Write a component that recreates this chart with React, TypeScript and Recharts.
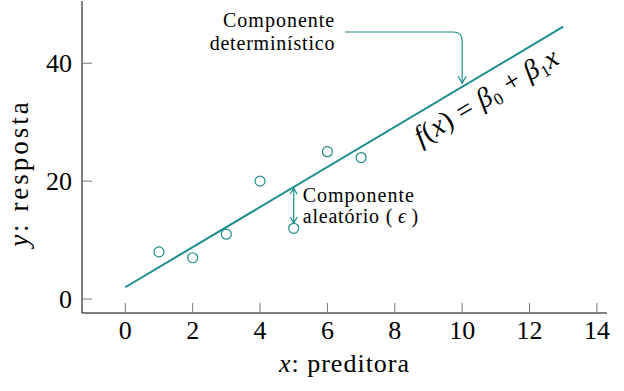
import { ComposedChart, XAxis, YAxis, Line, Scatter, ReferenceLine, ReferenceDot } from "recharts";

// axis ticks
const xTicks = [0, 2, 4, 6, 8, 10, 12, 14];
const yTicks = [0, 20, 40];

// observed points (x: preditora, y: resposta)
const observed = [
  { x: 1, y: 8 },
  { x: 2, y: 7 },
  { x: 3, y: 11 },
  { x: 4, y: 20 },
  { x: 5, y: 12 },
  { x: 6, y: 25 },
  { x: 7, y: 24 },
];

// fitted line f(x) = b0 + b1 x, end points
const fitted = [
  { x: 0, y: 2 },
  { x: 13, y: 46.2 },
];

// annotations (data coords)
const detArrow = [
  { x: 6.53, y: 45.3 },
  { x: 10, y: 36.6 },
];
const errArrow = [
  { x: 5, y: 12.9 },
  { x: 5, y: 18.8 },
];
const formulaAt = { x: 10.4, y: 37.4 };

const TEAL = "#1d8c8c";
const FONT = "Liberation Serif";
const TICK = "#777";
const txt = { fontFamily: FONT };

function BottomTick({ x, y, payload }: any) {
  return (
    <g>
      <line x1={x} y1={y} x2={x} y2={y - 10} stroke={TICK} />
      <text x={x} y={y + 26} textAnchor="middle" fontSize={26} style={txt} fill="#000">
        {payload.value}
      </text>
    </g>
  );
}

function TopTick({ x, y }: any) {
  return <line x1={x} y1={y} x2={x} y2={y + 10} stroke={TICK} />;
}

function LeftTick({ x, y, payload }: any) {
  return (
    <g>
      <line x1={x} y1={y} x2={x + 10} y2={y} stroke={TICK} />
      <text x={x - 10} y={y + 9} textAnchor="end" fontSize={26} style={txt} fill="#000">
        {payload.value}
      </text>
    </g>
  );
}

function RightTick({ x, y }: any) {
  return <line x1={x} y1={y} x2={x - 10} y2={y} stroke={TICK} />;
}

function XLabel({ viewBox }: any) {
  const { x, y, width } = viewBox;
  return (
    <text x={x + width / 2} y={y + 59} textAnchor="middle" fontSize={26} style={txt} fill="#000" letterSpacing={1}>
      <tspan fontStyle="italic">x</tspan>: preditora
    </text>
  );
}

function YLabel({ viewBox }: any) {
  const { y, height } = viewBox;
  const cy = y + height / 2 + 16;
  return (
    <text
      transform={`translate(28, ${cy}) rotate(-90)`}
      textAnchor="middle"
      fontSize={27}
      style={txt}
      fill="#000"
      letterSpacing={3}
    >
      <tspan fontStyle="italic">y</tspan>: resposta
    </text>
  );
}

function Dot({ cx, cy }: any) {
  return <circle cx={cx} cy={cy} r={5} fill="#fff" stroke={TEAL} strokeWidth={1.2} />;
}

function DetShape({ x1, y1, x2, y2 }: any) {
  const r = 9;
  return (
    <g>
      <path
        d={`M${x1},${y1} H${x2 - r} Q${x2},${y1} ${x2},${y1 + r} V${y2}`}
        fill="none"
        stroke={TEAL}
        strokeWidth={1.2}
      />
      <path d={`M${x2 - 4},${y2 - 7} L${x2},${y2} L${x2 + 4},${y2 - 7}`} fill="none" stroke={TEAL} strokeWidth={1.2} />
      <text x={x1 - 10} y={y1 - 5} textAnchor="end" fontSize={20} style={txt} letterSpacing={1} fill="#000">
        Componente
      </text>
      <text x={x1 - 10} y={y1 + 18} textAnchor="end" fontSize={20} style={txt} letterSpacing={0.8} fill="#000">
        determinístico
      </text>
    </g>
  );
}

function ErrShape({ x1, y1, x2, y2 }: any) {
  return (
    <g>
      <line x1={x1} y1={y1} x2={x2} y2={y2} stroke={TEAL} strokeWidth={1.2} />
      <path d={`M${x2 - 3.5},${y2 + 6} L${x2},${y2} L${x2 + 3.5},${y2 + 6}`} fill="none" stroke={TEAL} strokeWidth={1.2} />
      <path d={`M${x1 - 3.5},${y1 - 6} L${x1},${y1} L${x1 + 3.5},${y1 - 6}`} fill="none" stroke={TEAL} strokeWidth={1.2} />
      <text x={x2 + 9} y={y2 + 14} fontSize={20} style={txt} letterSpacing={1} fill="#000">
        Componente
      </text>
      <text x={x2 + 9} y={y1} fontSize={20} style={txt} letterSpacing={0.8} fill="#000">
        aleatório (<tspan fontStyle="italic">{"\u2009ϵ\u2009"}</tspan>)
      </text>
    </g>
  );
}

function Formula({ cx, cy }: any) {
  return (
    <text
      transform={`translate(${cx}, ${cy}) rotate(-30.8) translate(0, 30)`}
      textAnchor="middle"
      fontSize={28}
      style={txt}
      fill="#000"
      letterSpacing={0.5}
    >
      <tspan fontStyle="italic">f</tspan>(<tspan fontStyle="italic">x</tspan>) = <tspan fontStyle="italic">β</tspan>
      <tspan fontSize={17} dy={5}>0</tspan>
      <tspan dy={-5}> + </tspan>
      <tspan fontStyle="italic">β</tspan>
      <tspan fontSize={17} dy={5}>1</tspan>
      <tspan fontStyle="italic" dy={-5}>x</tspan>
    </text>
  );
}

export default function App() {
  return (
    <div style={{ position: "absolute", left: 0, top: 0, background: "#fff", fontFamily: FONT }}>
      <ComposedChart width={624} height={391} margin={{ top: 1, right: 17, bottom: 0, left: 0 }} style={txt}>
        <XAxis
          xAxisId="b"
          type="number"
          dataKey="x"
          domain={[-1.285, 14.3]}
          ticks={xTicks}
          interval={0}
          allowDataOverflow
          height={78}
          tickSize={0}
          tickMargin={0}
          tickLine={false}
          tick={<BottomTick />}
          axisLine={{ stroke: "#000", strokeWidth: 1 }}
          label={{ content: XLabel }}
        />
        <XAxis
          xAxisId="t"
          orientation="top"
          type="number"
          dataKey="x"
          domain={[-1.285, 14.3]}
          ticks={xTicks}
          interval={0}
          allowDataOverflow
          height={0}
          tickSize={0}
          tickMargin={0}
          tickLine={false}
          tick={<TopTick />}
          axisLine={{ stroke: "#000", strokeWidth: 1 }}
        />
        <YAxis
          yAxisId="l"
          type="number"
          domain={[-2.37, 50.56]}
          ticks={yTicks}
          interval={0}
          allowDataOverflow
          width={82}
          tickSize={0}
          tickMargin={0}
          tickLine={false}
          tick={<LeftTick />}
          axisLine={{ stroke: "#000", strokeWidth: 1 }}
          label={{ content: YLabel }}
        />
        <YAxis
          yAxisId="r"
          orientation="right"
          type="number"
          domain={[-2.37, 50.56]}
          ticks={yTicks}
          interval={0}
          allowDataOverflow
          width={0}
          tickSize={0}
          tickMargin={0}
          tickLine={false}
          tick={<RightTick />}
          axisLine={{ stroke: "#000", strokeWidth: 1 }}
        />
        <Line
          xAxisId="b"
          yAxisId="l"
          data={fitted}
          dataKey="y"
          type="linear"
          stroke={TEAL}
          strokeWidth={2}
          dot={false}
          activeDot={false}
          isAnimationActive={false}
        />
        <Scatter
          xAxisId="b"
          yAxisId="l"
          data={observed}
          dataKey="y"
          shape={<Dot />}
          isAnimationActive={false}
        />
        <ReferenceLine xAxisId="b" yAxisId="l" segment={detArrow} shape={DetShape} />
        <ReferenceLine xAxisId="b" yAxisId="l" segment={errArrow} shape={ErrShape} />
        <ReferenceDot xAxisId="b" yAxisId="l" x={formulaAt.x} y={formulaAt.y} r={0} shape={Formula} />
      </ComposedChart>
    </div>
  );
}
